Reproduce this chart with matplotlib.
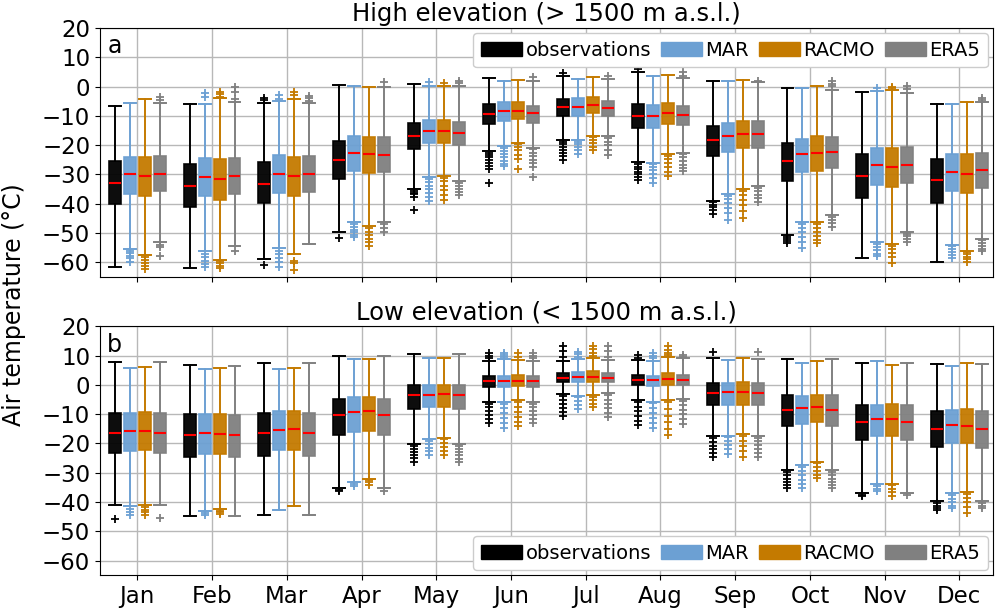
import matplotlib.pyplot as plt
from matplotlib.patches import Patch

months = ['Jan', 'Feb', 'Mar', 'Apr', 'May', 'Jun',
          'Jul', 'Aug', 'Sep', 'Oct', 'Nov', 'Dec']
sources = ['observations', 'MAR', 'RACMO', 'ERA5']
colours = ['black', '#6ca0d3', '#c47a00', '#808080']
offsets = [-0.3, -0.1, 0.1, 0.3]

# each row: (whisker low, q1, median, q3, whisker high)
high_obs = [
    (-61.5, -40.0, -32.9, -25.5, -6.7), (-61.9, -41.2, -33.8, -26.4, -5.8),
    (-58.8, -39.6, -33.1, -25.9, -5.7), (-49.7, -31.7, -24.9, -18.5, 0.7),
    (-35.1, -21.4, -17.0, -12.5, 0.9), (-22.0, -12.7, -9.3, -6.1, 2.8),
    (-18.4, -10.1, -7.1, -4.3, 3.5), (-25.7, -14.3, -9.9, -6.1, 4.9),
    (-39.0, -23.8, -18.1, -13.3, 2.0), (-50.7, -32.3, -25.5, -19.3, -0.5),
    (-58.4, -38.2, -30.5, -22.9, -1.9), (-60.0, -39.6, -32.0, -24.6, -6.1),
]
high_obs_fliers = [
    [], [], [-4.0, -4.5, -60.9], [-51.8],
    [-35.6, -36.2, -36.8, -37.6, -42.2],
    [-22.5, -23.3, -24.2, -25.1, -26.0, -27.0, -28.0, -32.8],
    [4.5, -18.8, -19.6, -20.5, -21.5, -22.6, -23.8, -24.9],
    [6.0, -26.5, -27.3, -28.2, -29.1, -30.0, -31.0, -32.0],
    [-39.5, -40.3, -41.2, -42.3, -43.5],
    [-51.2, -52.0, -52.8, -53.5], [], [],
]
high_mar = [
    (-55.4, -36.6, -30.0, -23.9, -5.6), (-56.3, -37.3, -30.8, -24.4, -5.8),
    (-55.2, -36.3, -29.7, -23.5, -4.9), (-46.4, -28.8, -22.7, -16.9, 0.1),
    (-30.8, -19.3, -15.2, -11.3, 0.3), (-20.4, -11.6, -8.4, -5.4, 2.0),
    (-18.4, -10.1, -6.8, -4.0, 2.6), (-26.0, -14.3, -10.0, -6.2, 3.7),
    (-36.7, -22.3, -16.9, -12.5, 2.0), (-46.4, -29.1, -23.0, -17.8, -0.5),
    (-52.9, -33.7, -26.9, -20.9, -1.6), (-54.1, -35.6, -29.1, -22.9, -5.9),
]
high_mar_fliers = [
    [-56.0, -56.8, -57.7, -58.6, -59.8],
    [-2.3, -3.6, -57.0, -58.2, -59.4, -60.5, -61.7],
    [-3.0, -4.2, -56.0, -57.2, -58.5, -59.8, -61.7],
    [-46.9, -47.8, -48.8, -49.7, -50.6, -51.5],
    [1.5, -31.5, -32.6, -33.8, -35.0, -36.3, -37.6, -39.0],
    [-21.0, -22.0, -23.1, -24.2, -25.3, -26.3, -27.2],
    [-18.8, -19.7, -20.6, -21.7, -22.9],
    [-26.5, -27.5, -28.6, -29.8, -31.2, -32.9],
    [-37.3, -38.5, -39.9, -41.4, -43.0, -45.6],
    [-47.0, -48.3, -49.7, -51.2, -53.0, -55.2],
    [-0.5, -53.6, -54.7, -55.9, -57.0, -58.0],
    [-54.6, -55.5, -56.5, -57.5, -58.6],
]
high_racmo = [
    (-57.5, -37.4, -30.6, -24.1, -4.1), (-59.2, -38.8, -31.5, -24.8, -4.0),
    (-57.1, -37.5, -30.6, -24.0, -4.1), (-47.6, -29.5, -23.1, -17.2, -0.2),
    (-30.6, -19.2, -15.2, -11.3, 0.1), (-19.2, -11.0, -8.2, -5.1, 2.3),
    (-16.7, -9.0, -6.2, -3.4, 3.2), (-22.9, -12.9, -9.1, -5.7, 4.0),
    (-35.0, -21.0, -16.1, -11.6, 2.4), (-46.4, -28.8, -22.7, -17.0, 0.1),
    (-53.9, -34.2, -27.4, -20.9, -1.0), (-56.0, -36.5, -29.7, -23.1, -5.1),
]
high_racmo_fliers = [
    [-58.2, -59.3, -60.4, -61.4, -62.4],
    [-1.7, -2.5, -3.4, -59.6, -60.4, -61.2, -62.0],
    [-2.0, -3.0, -59.4, -60.3, -62.8],
    [-48.3, -49.5, -50.8, -52.0, -53.2, -54.3],
    [1.1, -31.2, -32.4, -33.8, -35.3, -36.9, -38.8],
    [-19.6, -20.6, -21.8, -23.2, -24.6, -28.0],
    [-17.1, -18.2, -19.4, -20.6, -21.8],
    [-23.6, -24.8, -26.1, -27.5, -29.0, -30.5],
    [-35.5, -37.0, -38.6, -40.3, -42.4, -45.0],
    [-47.0, -48.3, -49.6, -51.0, -52.3, -53.5],
    [0.0, -0.6, -54.5, -55.6, -56.8, -58.2, -60.3],
    [-56.4, -57.3, -58.2, -59.0, -59.8],
]
high_era5 = [
    (-53.1, -35.7, -29.7, -23.7, -5.7), (-54.6, -36.6, -30.6, -24.5, -5.3),
    (-53.9, -36.1, -29.9, -23.6, -5.6), (-46.4, -29.3, -23.2, -17.3, -0.2),
    (-32.2, -20.1, -15.9, -12.1, 0.1), (-21.0, -12.4, -9.1, -6.5, 2.0),
    (-17.0, -10.1, -7.4, -5.0, 2.6), (-22.6, -13.2, -9.6, -6.5, 2.9),
    (-34.0, -20.9, -16.2, -11.8, 1.5), (-43.9, -27.8, -22.3, -17.2, -1.1),
    (-49.7, -32.8, -26.6, -20.6, -2.3), (-52.0, -34.6, -28.6, -22.6, -5.1),
]
high_era5_fliers = [
    [-3.6, -4.6, -54.0, -54.9, -57.8],
    [0.0, -2.0, -4.2, -56.0],
    [-3.3, -4.0, -4.8],
    [1.7, -47.0, -48.2, -49.5],
    [1.8, 1.1, -32.9, -33.9, -35.0, -36.1, -37.1],
    [3.2, -21.4, -22.5, -23.7, -24.9, -26.2, -27.4, -31.0],
    [3.7, -17.6, -18.8, -20.1, -21.5, -23.5],
    [4.9, 3.7, -23.1, -24.2, -25.4, -26.6, -27.8, -28.9],
    [2.0, -34.5, -35.7, -36.9, -38.1, -39.3],
    [1.8, 0.9, 0.3, -44.5, -45.6, -46.7, -47.8],
    [0.2, -0.8, -50.2, -51.0, -51.9, -52.9],
    [-4.0, -4.5, -52.5, -53.5, -54.5, -55.4, -56.3],
]

low_obs = [
    (-41.0, -23.1, -16.3, -9.7, 7.7), (-44.7, -24.5, -17.2, -10.1, 6.8),
    (-44.4, -24.2, -16.5, -9.7, 7.6), (-35.3, -17.0, -10.2, -4.8, 10.0),
    (-20.1, -8.2, -3.6, -0.1, 10.6), (-5.7, -0.6, 1.4, 3.2, 8.0),
    (-3.1, 1.0, 2.5, 4.2, 8.0), (-5.1, -0.2, 1.7, 3.4, 8.5),
    (-17.6, -6.8, -2.8, 0.8, 9.1), (-29.0, -14.0, -8.5, -3.5, 8.9),
    (-37.0, -18.8, -12.5, -6.8, 7.4), (-39.8, -21.3, -15.0, -8.8, 7.1),
]
low_obs_fliers = [
    [-45.7], [], [], [-35.8, -36.4],
    [-20.8, -21.8, -22.9, -24.0, -25.1, -26.2],
    [10.8, 9.9, 9.1, -6.4, -7.6, -8.9, -10.2, -11.6, -13.1],
    [13.3, 11.5, 9.7, -3.9, -5.2, -6.6, -8.0, -9.3, -10.6],
    [10.2, 9.1, -5.9, -7.4, -9.0, -10.6, -12.2, -13.7],
    [11.4, -18.2, -19.4, -20.7, -22.0, -23.3, -24.5],
    [-29.6, -30.8, -32.0, -33.2, -34.3, -35.3],
    [-37.5, -38.1],
    [-40.4, -41.2, -42.0, -42.7],
]
low_mar = [
    (-41.5, -22.5, -15.6, -9.7, 5.7), (-42.9, -23.5, -16.5, -10.1, 5.6),
    (-42.7, -22.4, -15.4, -8.9, 5.6), (-33.3, -16.2, -9.1, -4.2, 9.0),
    (-18.5, -7.6, -3.3, -0.2, 9.1), (-5.7, -0.6, 1.4, 3.2, 8.8),
    (-3.8, 1.0, 2.6, 4.3, 9.0), (-5.7, -0.3, 1.6, 3.2, 8.0),
    (-17.3, -6.8, -2.5, 0.6, 8.5), (-27.3, -13.2, -8.0, -3.8, 7.4),
    (-33.9, -17.6, -11.5, -6.8, 8.0), (-37.0, -19.9, -13.8, -8.5, 6.3),
]
low_mar_fliers = [
    [-42.3, -43.3, -44.4], [-43.6, -44.4], [], [-33.8, -34.5],
    [-19.1, -20.3, -21.5, -22.7, -23.9],
    [11.0, 10.2, 9.5, -6.4, -8.0, -9.7, -11.4, -13.1, -14.8],
    [11.4, 10.5, 9.7, -4.2, -5.6, -7.0, -8.3],
    [11.0, 10.0, 9.1, -6.3, -8.0, -9.7, -11.4, -13.1, -14.8],
    [-17.9, -19.2, -20.6, -22.0, -23.5],
    [-27.9, -29.4, -30.9, -32.4, -33.9, -35.3],
    [-34.4, -35.4, -36.4],
    [-37.5, -38.8, -40.1, -41.2, -42.1],
]
low_racmo = [
    (-41.1, -22.2, -15.8, -9.4, 6.1), (-42.3, -23.5, -16.6, -10.0, 5.9),
    (-41.5, -22.2, -15.1, -8.8, 5.8), (-32.1, -15.6, -8.9, -4.2, 9.0),
    (-18.0, -7.4, -3.1, -0.1, 9.2), (-5.3, -0.3, 1.5, 3.3, 8.5),
    (-3.4, 1.1, 2.8, 4.6, 9.1), (-5.3, -0.1, 1.9, 4.0, 9.4),
    (-16.8, -6.8, -2.3, 1.0, 9.3), (-26.3, -12.5, -7.6, -3.3, 8.0),
    (-33.8, -17.6, -11.7, -6.6, 6.8), (-36.6, -19.9, -13.9, -8.3, 7.6),
]
low_racmo_fliers = [
    [-41.8, -42.6, -43.5, -44.4], [-42.9, -43.5, -44.1], [], [-32.6, -33.3, -34.1],
    [-18.6, -19.9, -21.2, -22.5, -23.9],
    [10.8, 9.7, -6.0, -7.6, -9.3, -10.9, -12.6, -14.2],
    [13.3, 12.2, 11.0, 9.8, -4.0, -5.2, -6.4, -7.6],
    [13.3, 12.0, 10.8, 10.2, -6.0, -8.2, -10.5, -12.8, -15.0, -17.1],
    [-17.4, -19.0, -20.8, -22.6, -24.5],
    [-26.8, -28.1, -29.3, -30.6, -31.9],
    [-34.2, -35.4, -36.6, -37.9],
    [-37.1, -38.6, -40.1, -41.7, -43.6],
]
low_era5 = [
    (-41.0, -23.1, -16.3, -9.7, 7.7), (-44.7, -24.5, -17.2, -10.2, 6.6),
    (-44.4, -24.2, -16.5, -9.7, 7.6), (-35.3, -17.0, -10.2, -4.8, 10.0),
    (-20.1, -8.2, -3.6, -0.1, 10.6), (-5.7, -0.6, 1.4, 3.2, 8.0),
    (-2.8, 1.0, 2.5, 4.0, 8.5), (-4.9, -0.1, 1.7, 3.4, 9.1),
    (-17.6, -6.8, -2.8, 0.6, 9.0), (-29.0, -14.0, -8.4, -3.5, 8.9),
    (-37.0, -18.8, -12.5, -6.8, 7.4), (-39.8, -21.4, -15.0, -8.9, 7.1),
]
low_era5_fliers = [
    [-45.4], [], [], [-36.1],
    [-20.8, -21.9, -23.0, -24.1, -25.2, -26.2],
    [10.8, 9.9, 9.1, -6.4, -7.7, -9.0, -10.4, -11.8, -13.1],
    [13.3, 11.5, 9.7, -3.5, -5.0, -6.5, -8.0, -9.5, -10.8],
    [10.2, 9.7, -5.4, -7.0, -8.6, -10.1, -11.7, -13.3],
    [11.4, -18.0, -19.3, -20.6, -21.9, -23.2, -24.5],
    [-29.6, -30.8, -32.0, -33.2, -34.3, -35.3],
    [-37.5],
    [-40.4, -41.2, -42.1],
]


def panel(ax, boxes, fliers, title, letter, legend_loc):
    for k, (rows, flier_rows) in enumerate(zip(boxes, fliers)):
        c = colours[k]
        stats = [dict(whislo=r[0], q1=r[1], med=r[2], q3=r[3], whishi=r[4],
                      fliers=f) for r, f in zip(rows, flier_rows)]
        pos = [i + 1 + offsets[k] for i in range(len(months))]
        ax.bxp(stats, positions=pos, widths=0.16, capwidths=0.16,
               patch_artist=True, manage_ticks=False, showfliers=True,
               boxprops=dict(facecolor=c, edgecolor=c, lw=1.2, alpha=0.95),
               whiskerprops=dict(color=c, lw=1.4),
               capprops=dict(color=c, lw=1.4),
               medianprops=dict(color='red', lw=1.5),
               flierprops=dict(marker='+', markeredgecolor=c, markersize=6,
                               markeredgewidth=1.3, linestyle='none'))
    ax.set_xlim(0.5, 12.45)
    ax.set_ylim(-65, 20)
    ax.set_yticks(range(-60, 21, 10))
    ax.set_xticks(range(1, 13))
    ax.set_axisbelow(True)
    ax.grid(True, color='#b8b8b8', lw=1)
    ax.tick_params(labelsize=16.5)
    ax.set_title(title, fontsize=17.5, pad=5)
    ax.text(0.008, 0.975, letter, transform=ax.transAxes, fontsize=17,
            ha='left', va='top')
    handles = [Patch(facecolor=c, edgecolor=c) for c in colours]
    ax.legend(handles, sources, loc=legend_loc, ncol=4, fontsize=14,
              handlelength=2.1, handletextpad=0.2, columnspacing=0.5,
              borderaxespad=0.25, framealpha=1)


fig = plt.figure(figsize=(10, 6.1), dpi=100)
ax1 = fig.add_axes([0.1, 0.546, 0.893, 0.408])
ax2 = fig.add_axes([0.1, 0.057, 0.893, 0.408])

panel(ax1, [high_obs, high_mar, high_racmo, high_era5],
      [high_obs_fliers, high_mar_fliers, high_racmo_fliers, high_era5_fliers],
      'High elevation (> 1500 m a.s.l.)', 'a', 'upper right')
panel(ax2, [low_obs, low_mar, low_racmo, low_era5],
      [low_obs_fliers, low_mar_fliers, low_racmo_fliers, low_era5_fliers],
      'Low elevation (< 1500 m a.s.l.)', 'b', 'lower right')
ax1.set_xticklabels([])
ax2.set_xticklabels(months)

fig.text(0.014, 0.5, 'Air temperature (°C)', rotation=90, va='center',
         ha='center', fontsize=17)

fig.savefig('out.png', dpi=100)
